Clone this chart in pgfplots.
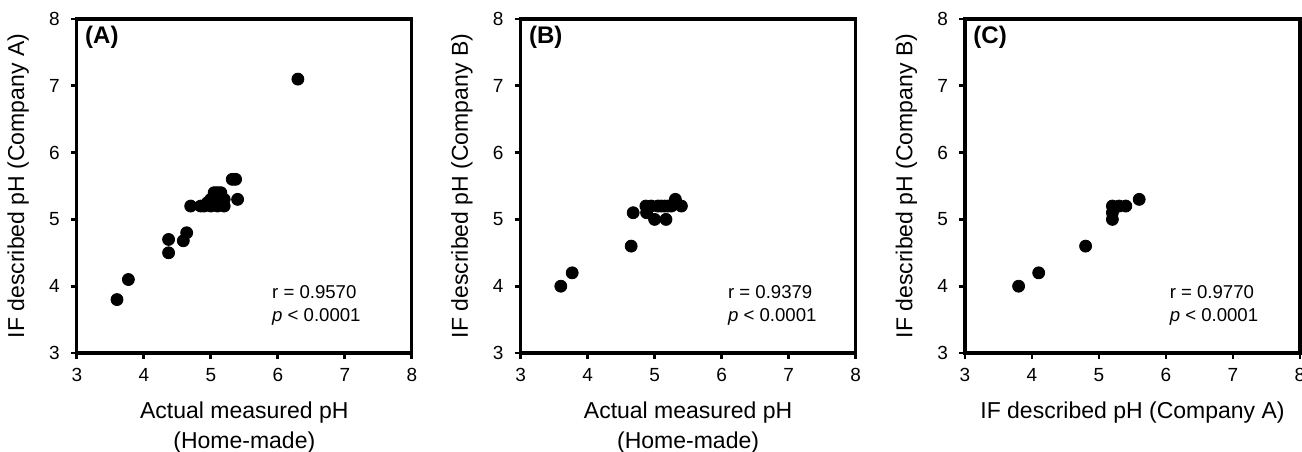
\documentclass[border=0pt]{standalone}
\usepackage{pgfplots}
\pgfplotsset{compat=1.18}
\usepackage{fontspec}
\setmainfont{Liberation Sans}

% common look of the three panels
\pgfplotsset{
  phpanel/.style={
    scale only axis,
    width=167.5pt, height=167pt,
    anchor=south west,
    xmin=3, xmax=8, ymin=3, ymax=8,
    xtick={3,4,5,6,7,8}, ytick={3,4,5,6,7,8},
    tick align=outside,
    major tick length=3pt,
    axis x line*=box, axis y line*=box,
    xtick pos=bottom, ytick pos=left,
    axis line style={line width=1.6pt, black},
    every tick/.style={line width=1.4pt, black},
    /pgf/number format/assume math mode=true,
    tick label style={font=\fontsize{9.5}{11}\selectfont},
    yticklabel style={xshift=-2pt},
    xticklabel style={yshift=-1pt},
    xlabel style={font=\fontsize{11.5}{15}\selectfont, align=center,
      at={(axis description cs:0.5,0)}, anchor=north, yshift=-21pt},
    ylabel style={font=\fontsize{11.5}{15}\selectfont,
      at={(axis description cs:0,0.5)}, anchor=center, yshift=29.3pt},
    clip=false,
  },
  phdots/.style={only marks, mark=*, mark size=3pt, black,
    mark options={fill=black, draw=black, line width=0.4pt}},
}

\newcommand{\panellabel}[1]{\node[anchor=west, inner sep=0pt, font=\bfseries\fontsize{12}{14}\selectfont] at (axis cs:3.12,7.72) {#1};}
\newcommand{\corrnote}[2]{\node[anchor=west, align=left, inner sep=0pt, font=\fontsize{9.3}{11.5}\selectfont] at (axis cs:#1,3.71) {r = #2\\\textit{p} < 0.0001};}

\begin{document}
\begin{tikzpicture}
\path[use as bounding box] (0,0) rectangle (651pt,225.5pt);

% (A) company A vs home-made
\begin{axis}[phpanel, at={(38.4pt,49pt)},
  xlabel={Actual measured pH\\(Home-made)},
  ylabel={IF described pH (Company A)}]
\addplot[phdots] coordinates {
  (3.60,3.80) (3.77,4.10) (4.37,4.70) (4.37,4.50) (4.59,4.68) (4.64,4.80)
  (4.70,5.20) (4.85,5.20) (4.90,5.20) (4.95,5.25) (5.00,5.30) (5.00,5.20)
  (5.05,5.35) (5.05,5.40) (5.10,5.40) (5.10,5.30) (5.10,5.20) (5.15,5.35)
  (5.20,5.20) (5.20,5.30) (5.15,5.40) (5.32,5.60) (5.37,5.60) (5.40,5.30)
  (6.30,7.10)
};
\panellabel{(A)}
\corrnote{5.91}{0.9570}
\end{axis}

% (B) company B vs home-made
\begin{axis}[phpanel, at={(260.3pt,49pt)},
  xlabel={Actual measured pH\\(Home-made)},
  ylabel={IF described pH (Company B)}]
\addplot[phdots] coordinates {
  (3.60,4.00) (3.77,4.20) (4.65,4.60) (4.68,5.10) (4.87,5.20) (4.88,5.10)
  (4.95,5.20) (5.00,5.00) (5.05,5.20) (5.10,5.20) (5.15,5.20) (5.17,5.00)
  (5.20,5.20) (5.25,5.20) (5.31,5.30) (5.40,5.20)
};
\panellabel{(B)}
\corrnote{6.09}{0.9379}
\end{axis}

% (C) company B vs company A
\begin{axis}[phpanel, at={(482.5pt,49pt)},
  xlabel={IF described pH (Company A)},
  ylabel={IF described pH (Company B)}]
\addplot[phdots] coordinates {
  (3.80,4.00) (4.10,4.20) (4.80,4.60) (5.20,5.00) (5.20,5.10) (5.20,5.20)
  (5.30,5.20) (5.40,5.20) (5.60,5.30)
};
\panellabel{(C)}
\corrnote{6.05}{0.9770}
\end{axis}
\end{tikzpicture}
\end{document}
